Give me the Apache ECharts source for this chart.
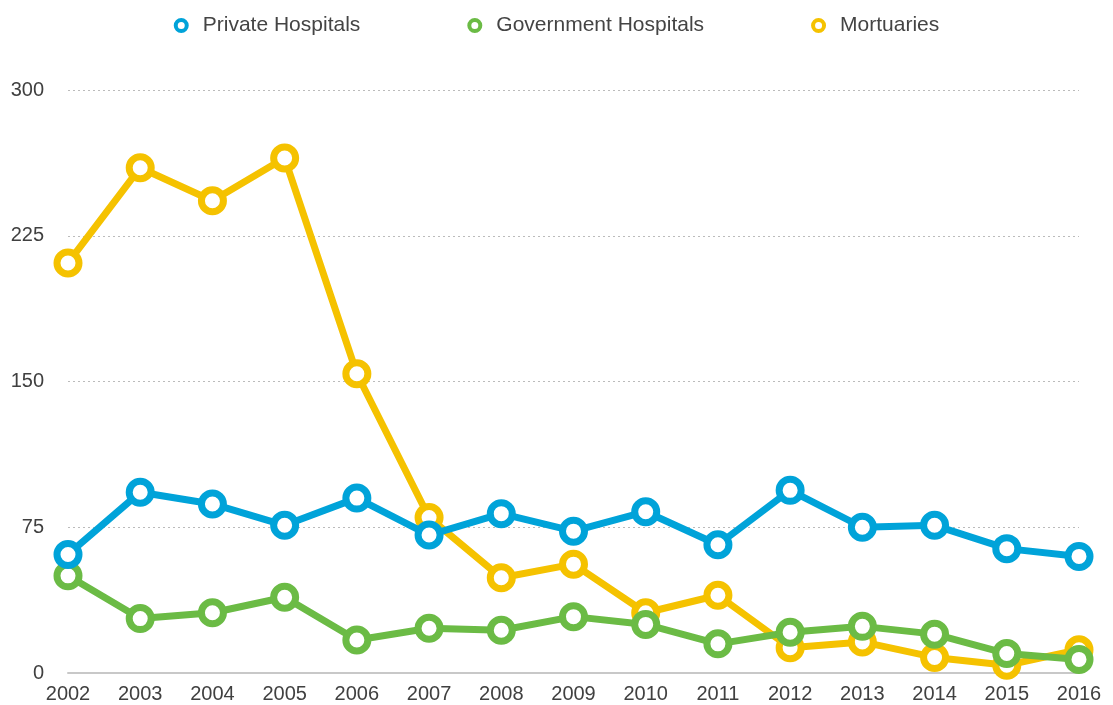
<!DOCTYPE html>
<html>
<head>
<meta charset="utf-8">
<script src="https://cdn.jsdelivr.net/npm/echarts@6/dist/echarts.min.js"></script>
<style>html,body{margin:0;padding:0;background:#fff}#c{width:1113px;height:705px}</style>
</head>
<body>
<div id="c"></div>
<script>
const years = ['2002','2003','2004','2005','2006','2007','2008','2009','2010','2011','2012','2013','2014','2015','2016'];
const privateHospitals = [61, 93, 87, 76, 90, 71, 82, 73, 83, 66, 94, 75, 76, 64, 60];
const governmentHospitals = [50, 28, 31, 39, 17, 23, 22, 29, 25, 15, 21, 24, 20, 10, 7];
const mortuaries = [211, 260, 243, 265, 154, 80, 49, 56, 31, 40, 13, 16, 8, 4, 12];
const seriesNames = ['Private Hospitals', 'Government Hospitals', 'Mortuaries'];
const colors = ['#00A3D9', '#6BBB45', '#F5C200'];
const yTicks = { min: 0, max: 300, interval: 75 };

const font = '"Liberation Sans", Arial, Helvetica, sans-serif';
const chart = echarts.init(document.getElementById('c'));
const dataSets = [privateHospitals, governmentHospitals, mortuaries];
const zs = [4, 3, 2];

chart.setOption({
  animation: false,
  backgroundColor: '#fff',
  legend: {
    top: 10,
    left: 'center',
    data: seriesNames.map((n, i) => ({
      name: n,
      icon: 'circle',
      itemStyle: { color: '#fff', borderColor: colors[i], borderWidth: 4 }
    })),
    itemWidth: 11,
    itemHeight: 11,
    itemGap: 107,
    textStyle: { fontSize: 21, color: '#444', fontFamily: font, padding: [0, 0, 0, 11] }
  },
  grid: { left: 68, right: 34, top: 90, bottom: 32, containLabel: false },
  xAxis: {
    type: 'category',
    data: years,
    boundaryGap: false,
    axisLine: { lineStyle: { color: '#c8c8c8', width: 2 } },
    axisTick: { show: false },
    axisLabel: { fontSize: 20, color: '#404040', fontFamily: font, margin: 11 },
    splitLine: { show: false }
  },
  yAxis: {
    type: 'value',
    min: yTicks.min,
    max: yTicks.max,
    interval: yTicks.interval,
    axisLine: { show: false },
    axisTick: { show: false },
    axisLabel: { fontSize: 20, color: '#404040', fontFamily: font, margin: 24 },
    splitLine: { lineStyle: { color: '#bbb', type: [2, 3], width: 1 } }
  },
  series: seriesNames.map((n, i) => ({
    name: n,
    type: 'line',
    data: dataSets[i],
    z: zs[i],
    symbol: 'circle',
    symbolSize: 22,
    showAllSymbol: true,
    color: colors[i],
    lineStyle: { width: 7, color: colors[i] },
    itemStyle: { color: '#fff', borderColor: colors[i], borderWidth: 7 }
  }))
});
</script>
</body>
</html>
